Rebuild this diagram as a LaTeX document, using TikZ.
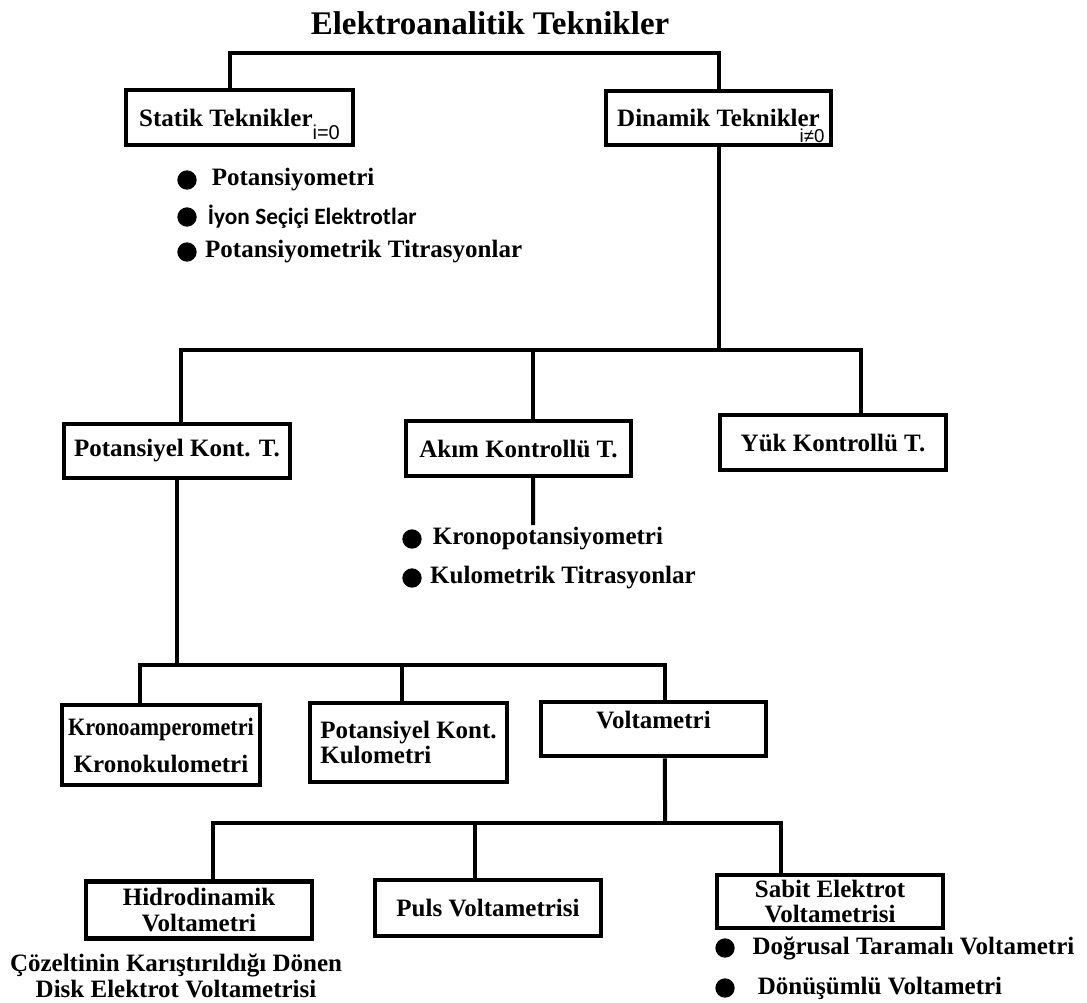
\documentclass[tikz,border=0pt]{standalone}
\usepackage{fontspec}
\usepackage{graphicx}
\setmainfont{Liberation Serif}
\newfontfamily\calfont{Carlito}
\newfontfamily\idxfont{Liberation Sans}
\usepackage{tikz}
\usetikzlibrary{positioning}
\tikzset{
  box/.style ={draw, line width=3.4pt, align=center, inner sep=2pt, font=\bfseries\fontsize{18.75}{19}\selectfont},
  ttl/.style ={inner sep=0pt, font=\bfseries\fontsize{24.75}{26}\selectfont},
  lst/.style ={inner sep=0pt, font=\bfseries\fontsize{18.75}{19}\selectfont},
  dot/.style ={circle, fill, inner sep=0pt, minimum size=14.5pt},
  idx/.style ={inner sep=0pt, font=\idxfont\fontsize{14}{14}\selectfont},
  conn/.style={line width=3pt},
}

\begin{document}
\begin{tikzpicture}[x=0.75pt, y=-0.75pt, node distance=8pt]
  \useasboundingbox (0,0) rectangle (1087,1002);
  \node[ttl] (title) at (490,23) {Elektroanalitik Teknikler};
  % first level
  \node[box, minimum width=170pt, minimum height=41pt] (statik) at (239.5,117.5) {Statik Teknikler\raisebox{-10pt}[0pt][0pt]{\idxfont\mdseries\fontsize{15}{15}\selectfont i=0}};
  \node[box, minimum width=169pt, minimum height=40.5pt] (dinamik) at (718.5,118) {Dinamik Teknikler};
  \node[idx] (dinidx) at (812,135.5) {i≠0};
  \coordinate (ust) at (480,53);
  \draw[conn] ([xshift=-7pt]statik.north) |- (ust) -| (dinamik.north);
  \node[dot] (s1) at (187,180) {};
  \node[lst, right=11pt of s1] (p1) {Potansiyometri};
  \node[dot] (s2) at (187,217) {};
  \node[lst, font=\calfont\bfseries\fontsize{17.5}{18}\selectfont, right=8pt of s2] (p2) {İyon Seçiçi Elektrotlar};
  \node[dot] (s3) at (187,252) {};
  \node[lst, right=6pt of s3] (p3) {Potansiyometrik Titrasyonlar};
  % dynamic techniques
  \node[box, minimum width=169.5pt, minimum height=40.5pt] (pot) at (177,451) {Potansiyel Kont. T.};
  \node[box, minimum width=169pt, minimum height=41pt] (akim) at (518.5,448.5) {Akım Kontrollü T.};
  \node[box, minimum width=169.5pt, minimum height=41pt] (yuk) at (833,442.5) {Yük Kontrollü T.};
  \coordinate (kol1) at (718,350);
  \draw[conn] (dinamik.south) -- (dinamik.south |- kol1);
  \draw[conn] ([xshift=3pt]pot.north) |- (kol1) -| ([xshift=21pt]yuk.north);
  \draw[conn] ([xshift=10.9pt]akim.north) -- ([xshift=10.9pt]akim.north |- kol1);
  \coordinate (akimuc) at (533,525);
  \draw[conn] ([xshift=10.9pt]akim.south) -- (akimuc);
  \node[dot] (a1) at (412,539) {};
  \node[lst, right=8pt of a1] (k1) {Kronopotansiyometri};
  \node[dot] (a2) at (412,578) {};
  \node[lst, right=6pt of a2] (k2) {Kulometrik Titrasyonlar};
  % potential controlled
  \node[box, minimum width=148.5pt, minimum height=60pt] (krono) at (161,745) {\scalebox{0.89}[1]{Kronoamperometri}\\[8.75pt]Kronokulometri};
  \node[box, align=left, minimum width=148pt, minimum height=59pt] (potkul) at (408.5,742.5) {Potansiyel Kont.\\Kulometri};
  \node[box, minimum width=169pt, minimum height=40.5pt] (volt) at (653.5,729) {\raisebox{13.5pt}{Voltametri}};
  \coordinate (kol2) at (178,665);
  \draw[conn] (pot.south) -- (pot.south |- kol2);
  \draw[conn] ([xshift=-15.75pt]krono.north) |- (kol2) -| ([xshift=8.6pt]volt.north);
  \draw[conn] ([xshift=-4.9pt]potkul.north) -- ([xshift=-4.9pt]potkul.north |- kol2);
  % voltammetry
  \node[box, minimum width=169.5pt, minimum height=42.75pt] (hidro) at (199,910) {Hidrodinamik\\Voltametri};
  \node[box, minimum width=169.5pt, minimum height=42pt] (puls) at (488,908) {Puls Voltametrisi};
  \node[box, minimum width=169.5pt, minimum height=40pt] (sabit) at (830,901.5) {Sabit Elektrot\\Voltametrisi};
  \coordinate (kol3) at (665,823);
  \draw[conn] ([xshift=8.6pt]volt.south) -- (kol3);
  \draw[conn] ([xshift=10.5pt]hidro.north) |- (kol3) -| ([xshift=-36.75pt]sabit.north);
  \draw[conn] ([xshift=-9.75pt]puls.north) -- ([xshift=-9.75pt]puls.north |- kol3);
  \node[lst, align=center] (cozelti) at (176,976) {Çözeltinin Karıştırıldığı Dönen\\Disk Elektrot Voltametrisi};
  \node[dot] (b1) at (725,948) {};
  \node[lst, right=13pt of b1] (v1) {Doğrusal Taramalı Voltametri};
  \node[dot] (b2) at (725,988) {};
  \node[lst, right=17pt of b2] (v2) {Dönüşümlü Voltametri};
\end{tikzpicture}
\end{document}
